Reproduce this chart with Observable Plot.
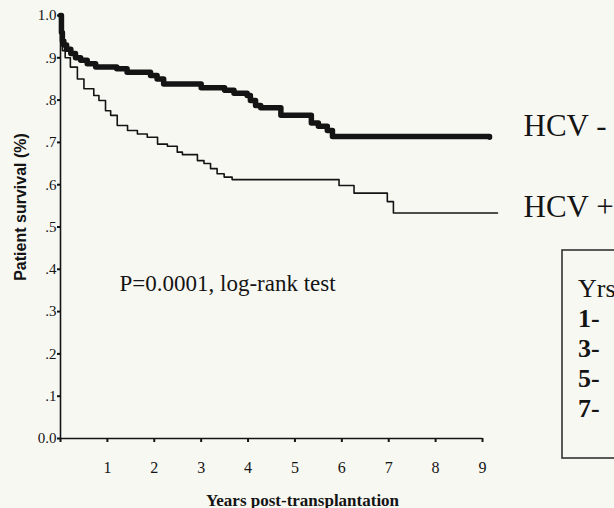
<!DOCTYPE html>
<html><head><meta charset="utf-8">
<script src="https://cdn.jsdelivr.net/npm/d3@7"></script>
<script src="https://cdn.jsdelivr.net/npm/@observablehq/plot@0.6"></script>
<style>
html,body{margin:0;padding:0;background:#f8f8f3;overflow:hidden;}
#chart{position:relative;width:614px;height:508px;}
</style></head><body><div id="chart"></div>
<script>
// HCV-negative (thick) Kaplan–Meier curve: years post-transplantation, survival fraction
const hcvNegYears = [0, 0.02, 0.04, 0.07, 0.13, 0.22, 0.32, 0.43, 0.57, 0.75, 1.2, 1.42, 1.92, 2.06, 2.2, 3.0, 3.5, 3.7, 3.98, 4.05, 4.16, 4.27, 4.7, 5.35, 5.5, 5.69, 5.8, 9.15];
const hcvNegSurv  = [1.0, 0.96, 0.94, 0.93, 0.92, 0.91, 0.90, 0.894, 0.886, 0.878, 0.874, 0.866, 0.858, 0.85, 0.838, 0.829, 0.823, 0.816, 0.811, 0.799, 0.787, 0.782, 0.764, 0.746, 0.738, 0.728, 0.714, 0.712];
// HCV-positive (thin) curve
const hcvPosYears = [0, 0.02, 0.04, 0.1, 0.21, 0.36, 0.5, 0.71, 0.82, 0.96, 1.07, 1.21, 1.43, 1.64, 1.85, 2.07, 2.28, 2.49, 2.6, 2.92, 3.06, 3.2, 3.34, 3.49, 3.66, 5.94, 6.26, 6.97, 7.1, 9.32];
const hcvPosSurv  = [1.0, 0.93, 0.917, 0.9, 0.878, 0.85, 0.827, 0.811, 0.799, 0.775, 0.764, 0.74, 0.728, 0.72, 0.712, 0.696, 0.691, 0.677, 0.671, 0.657, 0.65, 0.638, 0.626, 0.618, 0.612, 0.598, 0.58, 0.56, 0.533, 0.533];

const seriesLabels = ["HCV -", "HCV +"];
const xTicks = [0, 1, 2, 3, 4, 5, 6, 7, 8, 9];
const yTicks = [0, 0.1, 0.2, 0.3, 0.4, 0.5, 0.6, 0.7, 0.8, 0.9, 1.0];
const yTickLabels = ["0.0", ".1", ".2", ".3", ".4", ".5", ".6", ".7", ".8", ".9", "1.0"];
const tableHeader = "Yrs";
const tableRows = ["1-", "3-", "5-", "7-"];
const pText = "P=0.0001, log-rank test";
const xTitle = "Years post-transplantation";
const yTitle = "Patient survival (%)";

const neg = hcvNegYears.map((t, i) => ({t, s: hcvNegSurv[i]}));
const pos = hcvPosYears.map((t, i) => ({t, s: hcvPosSurv[i]}));
const negEnd = [{s: hcvNegSurv[hcvNegSurv.length - 1], label: seriesLabels[0]}];
const posEnd = [{s: hcvPosSurv[hcvPosSurv.length - 1], label: seriesLabels[1]}];

const ink = "#141414";
const serif = "Liberation Serif";
const sans = "Liberation Sans";

const plot = Plot.plot({
  width: 614, height: 508,
  marginLeft: 60, marginRight: 132, marginTop: 15, marginBottom: 70,
  style: {background: "transparent", fontFamily: serif, color: ink, overflow: "visible"},
  x: {domain: [0, 9]},
  y: {domain: [0, 1]},
  marks: [
    Plot.axisX({ticks: xTicks, tickSize: 4, tickPadding: 19, tickFormat: d => d === 0 ? "" : String(d), fontSize: 16, fontFamily: serif, label: null, strokeWidth: 2}),
    Plot.axisY({ticks: yTicks, tickSize: 3, tickPadding: 1, tickFormat: d => yTickLabels[Math.round(d * 10)], fontSize: 15, fontFamily: serif, label: null, strokeWidth: 2}),
    Plot.ruleY([0], {stroke: ink, strokeWidth: 1.6}),
    Plot.ruleX([0], {stroke: ink, strokeWidth: 1.6}),
    Plot.line(pos, {x: "t", y: "s", curve: "step-after", stroke: ink, strokeWidth: 1.6}),
    Plot.line(neg, {x: "t", y: "s", curve: "step-after", stroke: ink, strokeWidth: 5.5}),
    Plot.text(negEnd, {y: "s", text: "label", frameAnchor: "right", dx: 41, dy: -11, textAnchor: "start", lineAnchor: "middle", fontSize: 31, fontFamily: serif, fill: ink}),
    Plot.text(posEnd, {y: "s", text: "label", frameAnchor: "right", dx: 41, dy: -6, textAnchor: "start", lineAnchor: "middle", fontSize: 31, fontFamily: serif, fill: ink}),
    Plot.text([pText], {frameAnchor: "top-left", dx: 59, dy: 275, textAnchor: "start", lineAnchor: "bottom", fontSize: 23, fontFamily: serif, fill: ink}),
    Plot.text([xTitle], {frameAnchor: "bottom", dx: 31, dy: 67, textAnchor: "middle", lineAnchor: "bottom", fontSize: 17, fontWeight: "bold", fontFamily: serif, fill: ink}),
    Plot.text([yTitle], {frameAnchor: "left", rotate: -90, dx: -40, dy: -20, textAnchor: "middle", lineAnchor: "middle", fontSize: 16, fontWeight: "bold", fontFamily: sans, fill: ink})
  ]
});

document.getElementById("chart").appendChild(plot);

// Cropped summary table box at right
const svg = d3.select(plot);
const box = svg.append("g").attr("text-anchor", "start");
box.append("rect").attr("x", 562).attr("y", 250).attr("width", 90).attr("height", 208)
  .attr("fill", "none").attr("stroke", "#333").attr("stroke-width", 1.6);
box.append("text").attr("x", 578).attr("y", 297).text(tableHeader)
  .attr("font-family", serif).attr("font-size", 26).attr("fill", ink);
tableRows.forEach((r, i) => {
  box.append("text").attr("x", 578).attr("y", 327 + i * 30).text(r)
    .attr("font-family", serif).attr("font-size", 26).attr("font-weight", "bold").attr("fill", ink);
});
</script>
</body></html>
